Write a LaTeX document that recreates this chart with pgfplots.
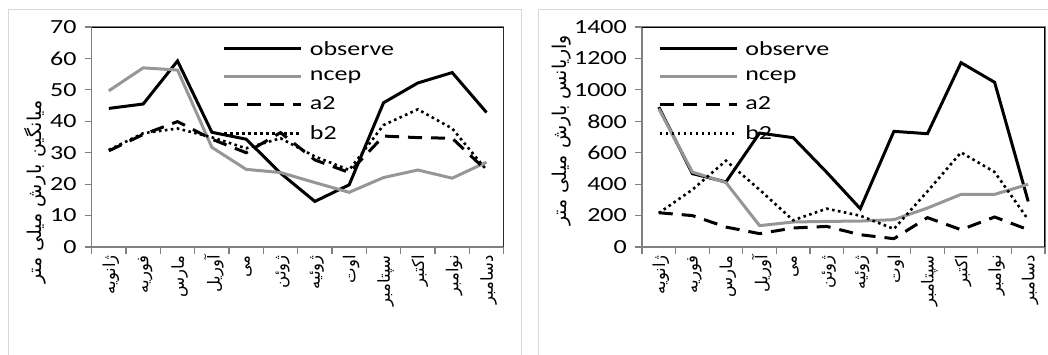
\documentclass[border=0pt]{standalone}
\usepackage{pgfplots}
\usepackage{pgfplotstable}
\pgfplotsset{compat=1.18}
\usepackage{fontspec}
\setmainfont{Carlito}[FakeStretch=1.3]
\newfontfamily\arabicfont[Script=Arabic]{DejaVu Sans}
\TeXXeTstate=1
\newcommand{\fa}[1]{{\arabicfont\beginR #1\endR}}
\definecolor{ncepgray}{RGB}{150,150,150}
\definecolor{axgray}{RGB}{128,128,128}
\definecolor{framegray}{RGB}{217,217,217}

\pgfplotstableread{
x obs ncep a2 b2
1 44.1 49.7 30.6 30.9
2 45.5 57.0 35.8 36.2
3 59.2 56.3 39.9 37.7
4 36.5 31.7 34.3 34.9
5 34.3 24.7 30.0 31.4
6 23.5 23.7 36.4 34.6
7 14.5 20.5 27.7 28.8
8 19.8 17.4 23.7 24.5
9 45.9 22.1 35.3 38.8
10 52.2 24.5 34.8 43.8
11 55.5 21.9 34.6 37.7
12 42.8 27.0 24.3 24.5
}\meanT

\pgfplotstableread{
x obs ncep a2 b2
1 890 880 218 216
2 467 477 200 365
3 414 410 127 549
4 725 136 85 365
5 696 159 121 170
6 475 163 131 244
7 244 165 78 199
8 736 174 53 115
9 721 248 187 354
10 1173 335 110 602
11 1048 335 191 477
12 290 399 110 174
}\varT

\pgfplotsset{
  panel/.style={
    scale only axis, height=220pt,
    xmin=0.5, xmax=12.5, ymin=0,
    xtick={1,...,12},
    xticklabels={\fa{ژانویه},\fa{فوریه},\fa{مارس},\fa{آوریل},\fa{می},\fa{ژوئن},\fa{ژوئیه},\fa{اوت},\fa{سپتامبر},\fa{اکتبر},\fa{نوامبر},\fa{دسامبر}},
    minor xtick={0.5,1.5,...,12.5},
    major x tick style={draw=none},
    minor x tick style={draw=axgray, line width=1.2pt},
    ytick style={draw=axgray, line width=1.2pt},
    major tick length=7pt, minor tick length=7pt,
    tick align=outside, xtick pos=bottom, ytick pos=left,
    axis line style={draw=axgray, line width=1.2pt},
    xticklabel style={rotate=90, anchor=east, font=\fontsize{16.5}{16.5}\selectfont, inner sep=1pt, yshift=-2pt},
    yticklabel style={font=\fontsize{20}{20}\selectfont, inner sep=1pt, xshift=-7pt},
    /pgf/number format/assume math mode=true,
    /pgf/number format/1000 sep={},
    scaled y ticks=false,
    legend style={draw=none, fill=none, font=\fontsize{20}{20}\selectfont, row sep=10.5pt, column sep=5pt, anchor=north west, inner sep=0pt},
    legend cell align=left,
    legend image code/.code={\draw[##1] (0pt,0pt) -- (77pt,0pt);},
    ylabel style={rotate=0, anchor=center, font=\fontsize{19}{19}\selectfont},
  },
  sobs/.style={black, line width=3pt},
  sncep/.style={ncepgray, line width=3pt},
  sa2/.style={black, line width=3pt, dash pattern=on 14pt off 9pt},
  sb2/.style={black, line width=2.6pt, dash pattern=on 2.6pt off 3.4pt},
}

\begin{document}
\begin{tikzpicture}[x=1pt,y=1pt]
\useasboundingbox (0,0) rectangle (1048,354);
\draw[framegray, line width=1pt] (8,-10) rectangle (521,344);
\draw[framegray, line width=1pt] (538,-10) rectangle (1060,344);

\begin{axis}[panel, at={(91.7pt,107pt)}, anchor=origin, width=412pt,
  ymax=70, ytick={0,10,...,70},
  ylabel={\arabicfont\beginR میانگین بارش میلی متر\endR},
  ylabel style={at={(axis description cs:-0.137,0.25)}},
  legend style={at={(axis description cs:0.318,0.945)}}]
\addplot[sobs] table[x=x,y=obs]{\meanT};
\addplot[sncep] table[x=x,y=ncep]{\meanT};
\addplot[sa2] table[x=x,y=a2]{\meanT};
\addplot[sb2] table[x=x,y=b2]{\meanT};
\legend{observe,ncep,a2,b2}
\draw[black, line width=1.5pt] (rel axis cs:0,1) -- (rel axis cs:1,1) -- (rel axis cs:1,0);
\end{axis}

\begin{axis}[panel, at={(642pt,107pt)}, anchor=origin, width=403pt,
  ymax=1400, ytick={0,200,...,1400},
  ylabel={\arabicfont\beginR واریانس بارش میلی متر\endR},
  ylabel style={at={(axis description cs:-0.2,0.53)}},
  legend style={at={(axis description cs:0.04,0.945)}}]
\addplot[sobs] table[x=x,y=obs]{\varT};
\addplot[sncep] table[x=x,y=ncep]{\varT};
\addplot[sa2] table[x=x,y=a2]{\varT};
\addplot[sb2] table[x=x,y=b2]{\varT};
\legend{observe,ncep,a2,b2}
\draw[black, line width=1.5pt] (rel axis cs:0,1) -- (rel axis cs:1,1) -- (rel axis cs:1,0);
\end{axis}
\end{tikzpicture}
\end{document}
